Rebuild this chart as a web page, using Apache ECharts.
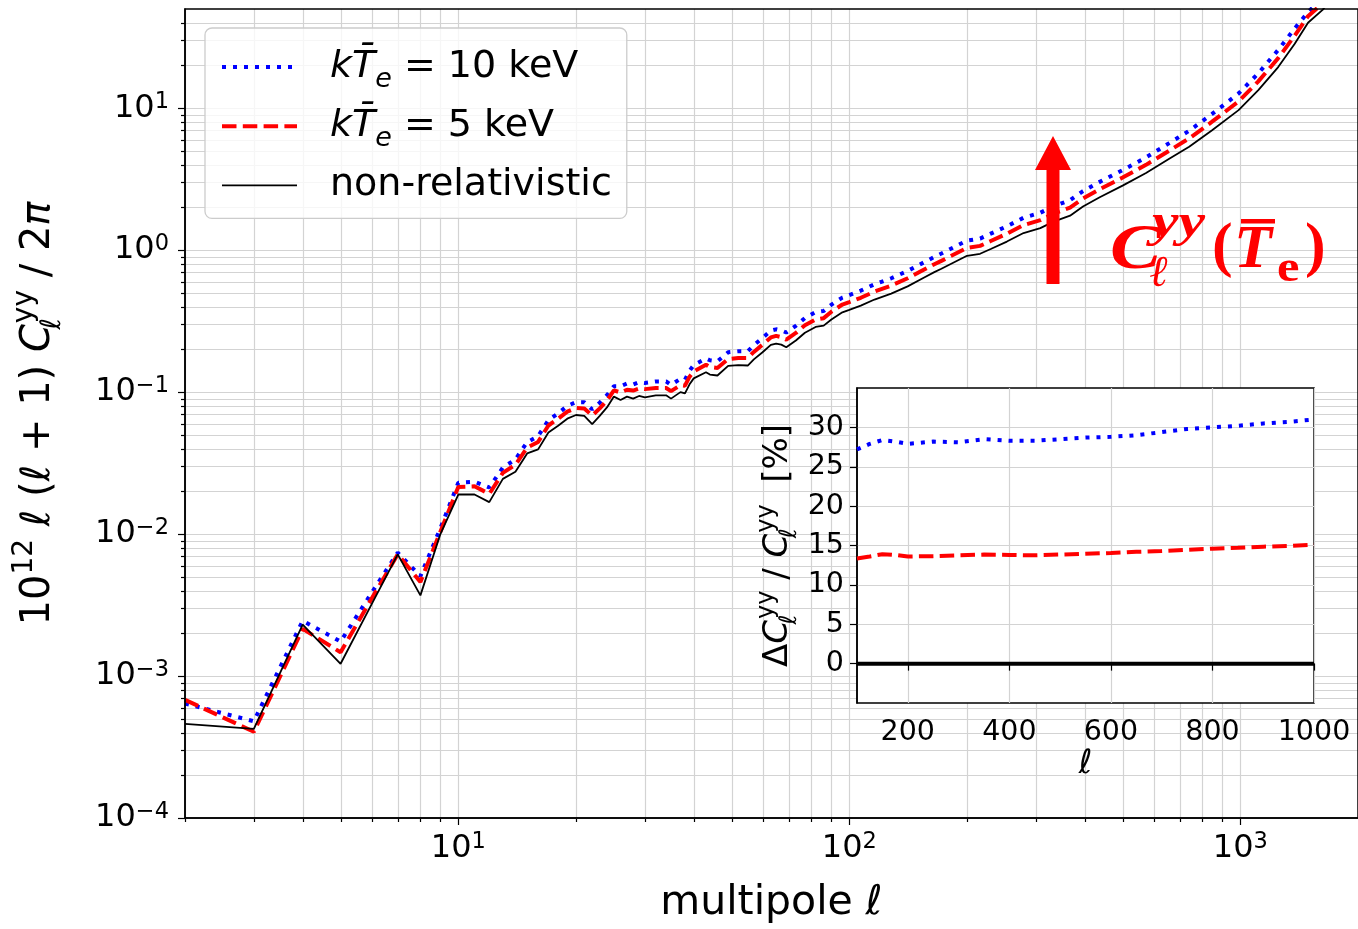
<!DOCTYPE html>
<html>
<head>
<meta charset="utf-8">
<title>tSZ power spectrum: relativistic corrections</title>
<script src="https://cdn.jsdelivr.net/npm/echarts@6.0.0/dist/echarts.min.js"></script>
<style>
  html, body { margin: 0; padding: 0; background: #fff; }
  #chart { width: 1358px; height: 929px; }
</style>
</head>
<body>
<div id="chart"></div>
<script>
// ---- multipoles and band powers, 10^12 l(l+1) C_l^yy / 2pi ----
const ell = [2, 3, 4, 5, 6, 7, 8, 9, 10, 11, 12, 13, 14, 15, 16, 17, 18, 19, 20, 21, 22, 23, 24, 25, 26, 27, 28, 29, 30, 32, 34, 35, 37, 38, 39, 40, 43, 44, 46, 49, 52, 55, 57, 60, 63, 65, 67, 69, 73, 77, 82, 86, 90, 96, 100, 107, 116, 128, 141, 155, 165, 172, 200, 216, 230, 253, 279, 308, 333, 367, 396, 437, 500, 574, 658, 740, 847, 990, 1112, 1250, 1378, 1490, 1626, 1700];

const kT10 = [6.4e-4, 4.8e-4, 2.45e-3, 1.75e-3, 3.85e-3, 7.4e-3, 5.05e-3, 1.1e-2, 0.0230, 0.0234, 0.0213, 0.0294, 0.0336, 0.0444, 0.049, 0.0634, 0.0708, 0.080, 0.0849, 0.085, 0.0756, 0.0843, 0.0952, 0.110, 0.110, 0.115, 0.113, 0.1175, 0.116, 0.119, 0.119, 0.1125, 0.124, 0.1225, 0.141, 0.155, 0.1725, 0.1676, 0.165, 0.191, 0.194, 0.194, 0.214, 0.241, 0.271, 0.277, 0.272, 0.263, 0.293, 0.333, 0.366, 0.373, 0.413, 0.4636, 0.483, 0.519, 0.575, 0.634, 0.714, 0.819, 0.896, 0.947, 1.168, 1.207, 1.307, 1.474, 1.692, 1.835, 2.042, 2.249, 2.607, 3.028, 3.662, 4.505, 5.676, 6.939, 9.114, 12.71, 17.62, 25.74, 36.5, 47.5, 60.0, 70.0];

const kT5 = [6.8e-4, 4.05e-4, 2.15e-3, 1.47e-3, 3.5e-3, 7.2e-3, 4.6e-3, 1.04e-2, 0.0215, 0.0217, 0.0192, 0.0270, 0.0308, 0.0407, 0.0446, 0.0582, 0.065, 0.0728, 0.0773, 0.0768, 0.0684, 0.0768, 0.0874, 0.103, 0.0994, 0.104, 0.1026, 0.106, 0.105, 0.107, 0.107, 0.1017, 0.112, 0.111, 0.128, 0.140, 0.156, 0.150, 0.148, 0.171, 0.174, 0.174, 0.192, 0.216, 0.243, 0.249, 0.244, 0.234, 0.261, 0.296, 0.325, 0.332, 0.3686, 0.414, 0.431, 0.462, 0.511, 0.563, 0.634, 0.728, 0.796, 0.841, 1.037, 1.072, 1.160, 1.308, 1.502, 1.627, 1.809, 1.993, 2.310, 2.686, 3.246, 3.99, 5.025, 6.126, 8.036, 11.16, 15.45, 22.54, 32.5, 44.5, 55.0, 65.0];

const nonRel = [4.6e-4, 4.25e-4, 2.3e-3, 1.22e-3, 3.2e-3, 7.2e-3, 3.7e-3, 1.0e-2, 0.019, 0.019, 0.0168, 0.0245, 0.0275, 0.037, 0.0395, 0.052, 0.058, 0.065, 0.069, 0.068, 0.0595, 0.068, 0.078, 0.093, 0.088, 0.093, 0.090, 0.094, 0.092, 0.095, 0.095, 0.090, 0.100, 0.098, 0.113, 0.125, 0.138, 0.133, 0.131, 0.153, 0.155, 0.154, 0.170, 0.191, 0.215, 0.220, 0.216, 0.207, 0.231, 0.262, 0.288, 0.294, 0.325, 0.365, 0.38, 0.407, 0.449, 0.494, 0.556, 0.64, 0.70, 0.74, 0.913, 0.943, 1.02, 1.15, 1.32, 1.43, 1.59, 1.75, 2.03, 2.36, 2.85, 3.5, 4.4, 5.35, 7.0, 9.7, 13.4, 19.5, 28.5, 40, 49.5, 58];

// ---- relative change of C_l^yy in percent (inset) ----
const insetEll = [100, 125, 150, 175, 200, 250, 300, 350, 400, 450, 500, 550, 600, 650, 700, 750, 800, 850, 900, 950, 1000];
const insetKT10 = [27.2, 27.9, 28.4, 28.2, 27.9, 28.2, 28.1, 28.5, 28.3, 28.3, 28.5, 28.7, 28.8, 29.0, 29.4, 29.8, 30.0, 30.2, 30.5, 30.7, 31.0];
const insetKT5 = [13.35, 13.6, 13.9, 13.8, 13.6, 13.65, 13.75, 13.85, 13.8, 13.75, 13.85, 13.95, 14.05, 14.2, 14.3, 14.45, 14.6, 14.7, 14.85, 14.95, 15.1];
const insetNonRel = [0, 0, 0, 0, 0, 0, 0, 0, 0, 0, 0, 0, 0, 0, 0, 0, 0, 0, 0, 0, 0];

// ---- tick values ----
const xMajorTicks = [10, 100, 1000];
const yMajorTicks = [1e-4, 1e-3, 1e-2, 1e-1, 1, 10];
const minorMultipliers = [2, 3, 4, 5, 6, 7, 8, 9];
const xDecades = [1, 10, 100];
const yDecades = [1e-4, 1e-3, 1e-2, 1e-1, 1, 10];
const insetXTicks = [200, 400, 600, 800, 1000];
const insetYTicks = [0, 5, 10, 15, 20, 25, 30];

const X_MIN = 2, X_MAX = 2000, Y_MIN = 1e-4, Y_MAX = 50;

const xMinorTicks = [];
xDecades.forEach(d => minorMultipliers.forEach(m => { const v = m * d; if (v >= X_MIN && v < X_MAX) xMinorTicks.push(v); }));
const yMinorTicks = [];
yDecades.forEach(d => minorMultipliers.forEach(m => { const v = m * d; if (v > Y_MIN && v < Y_MAX) yMinorTicks.push(v); }));

const NAME_10 = 'kTe = 10 keV';
const NAME_5 = 'kTe = 5 keV';
const NAME_NR = 'non-relativistic';

const GRID_GRAY = '#d3d3d3';
const FONT = 'DejaVu Sans';

function pairs(xs, ys) { return xs.map((x, i) => [x, ys[i]]); }

function powerLabel(v) {
  const e = Math.log10(v);
  const r = Math.round(e);
  if (Math.abs(e - r) > 1e-6) return '';
  return '{b|10}{sup|' + (r < 0 ? '\u2212' + (-r) : String(r)) + '}';
}

const powerRich = {
  b: { fontFamily: FONT, fontSize: 32, lineHeight: 35, color: '#000' },
  sup: { fontFamily: FONT, fontSize: 22.5, lineHeight: 22, verticalAlign: 'top', color: '#000' }
};

// Grid lines and ticks of the log-log panel, placed through the axes' own scales.
function tickSeries(axis, values, len, withGrid) {
  return {
    type: 'custom',
    xAxisIndex: 0, yAxisIndex: 0,
    coordinateSystem: 'cartesian2d',
    silent: true,
    z: 1,
    clip: false,
    encode: { x: 0, y: 1 },
    data: values.map(v => axis === 'x' ? [v, 1] : [10, v]),
    renderItem: function (params, api) {
      const cs = params.coordSys;
      const children = [];
      if (axis === 'x') {
        const px = Math.round(api.coord([api.value(0), 1])[0]) + 0.5;
        const bottom = cs.y + cs.height;
        if (withGrid) children.push({ type: 'line', shape: { x1: px, y1: cs.y, x2: px, y2: bottom }, style: { stroke: GRID_GRAY, lineWidth: 1.2 } });
        children.push({ type: 'line', shape: { x1: px, y1: bottom, x2: px, y2: bottom + len }, style: { stroke: '#000', lineWidth: 1.2 } });
      } else {
        const py = Math.round(api.coord([10, api.value(1)])[1]) + 0.5;
        if (withGrid) children.push({ type: 'line', shape: { x1: cs.x, y1: py, x2: cs.x + cs.width, y2: py }, style: { stroke: GRID_GRAY, lineWidth: 1.2 } });
        children.push({ type: 'line', shape: { x1: cs.x - len, y1: py, x2: cs.x, y2: py }, style: { stroke: '#000', lineWidth: 1.2 } });
      }
      return { type: 'group', children: children };
    }
  };
}

const dotted = { color: '#0000ff', width: 4, type: [4, 7], cap: 'butt' };
const dashed = { color: '#ff0000', width: 4, type: [14.5, 6.3], cap: 'butt' };
const solidMain = { color: '#000', width: 1.8 };
const hiddenSymbol = { color: 'rgba(0,0,0,0)', borderWidth: 0, opacity: 0 };

const legendRich = {
  n: { fontFamily: FONT, fontSize: 38, lineHeight: 52, color: '#000' },
  it: { fontFamily: FONT, fontSize: 38, fontStyle: 'italic', lineHeight: 52, color: '#000' },
  sub: { fontFamily: FONT, fontSize: 27, fontStyle: 'italic', lineHeight: 27, verticalAlign: 'bottom', color: '#000' },
  m: { fontFamily: FONT, fontSize: 38, lineHeight: 42, color: '#000' }
};

const nameRichMain = {
  n: { fontFamily: FONT, fontSize: 40, lineHeight: 56, color: '#000' },
  it: { fontFamily: FONT, fontSize: 40, fontStyle: 'italic', lineHeight: 56, color: '#000' },
  sup: { fontFamily: FONT, fontSize: 28, lineHeight: 28, verticalAlign: 'top', color: '#000' },
  sub0: { fontFamily: FONT, fontSize: 28, fontStyle: 'italic', lineHeight: 28, verticalAlign: 'bottom', width: 1, color: '#000' }
};

const nameRichInset = {
  n: { fontFamily: FONT, fontSize: 34, lineHeight: 47, color: '#000' },
  it: { fontFamily: FONT, fontSize: 34, fontStyle: 'italic', lineHeight: 47, color: '#000' },
  sup: { fontFamily: FONT, fontSize: 24, lineHeight: 24, verticalAlign: 'top', color: '#000' },
  sub0: { fontFamily: FONT, fontSize: 24, fontStyle: 'italic', lineHeight: 24, verticalAlign: 'bottom', width: 1, color: '#000' }
};

const RED = '#ff0000';
const annoFont = 'Liberation Serif';

const option = {
  animation: false,
  backgroundColor: '#ffffff',
  textStyle: { fontFamily: FONT },
  grid: [
    { left: 185, top: 9, right: -9, bottom: 109, show: true, backgroundColor: 'transparent', borderColor: '#000', borderWidth: 1.5, z: 3 },
    { left: 857, top: 388, width: 457, height: 315, show: true, backgroundColor: '#ffffff', borderColor: '#000', borderWidth: 1.5, z: 10 }
  ],
  legend: {
    data: [
      { name: NAME_10, lineStyle: dotted, itemStyle: hiddenSymbol },
      { name: NAME_5, lineStyle: dashed, itemStyle: hiddenSymbol },
      { name: NAME_NR, lineStyle: solidMain, itemStyle: hiddenSymbol }
    ],
    orient: 'vertical',
    left: 205, top: 28,
    padding: [20, 15, 14, 15],
    itemGap: 14.2,
    itemWidth: 75, itemHeight: 14,
    selectedMode: false,
    backgroundColor: 'rgba(255,255,255,0.8)',
    borderColor: '#cccccc', borderWidth: 1.3, borderRadius: 7,
    itemStyle: hiddenSymbol,
    textStyle: { padding: [0, 0, 0, 28], rich: legendRich },
    formatter: function (name) {
      if (name === NAME_10) return '{it|kT\u0304}{sub|e}{n| = 10 keV}';
      if (name === NAME_5) return '{it|kT\u0304}{sub|e}{n| = 5 keV}';
      return '{m|non-relativistic}';
    }
  },
  xAxis: [
    {
      type: 'log', logBase: 10, gridIndex: 0, min: X_MIN, max: X_MAX, z: 4,
      axisLine: { show: true, lineStyle: { color: '#000', width: 1.5 } },
      axisTick: { show: false }, splitLine: { show: false },
      axisLabel: { formatter: powerLabel, showMinLabel: false, showMaxLabel: false, margin: 13, rich: powerRich },
      name: 'multipole {it|\u2113}', nameLocation: 'middle', nameGap: 65,
      nameTextStyle: { fontFamily: FONT, fontSize: 41, color: '#000', rich: { it: { fontFamily: FONT, fontSize: 41, fontStyle: 'italic', color: '#000' } } }
    },
    {
      type: 'value', gridIndex: 1, min: 100, max: 1000, z: 11,
      axisLine: { show: true, lineStyle: { color: '#000', width: 1.5 } },
      axisTick: { show: true, customValues: insetXTicks, length: 7, lineStyle: { color: '#000', width: 1.2 } },
      axisLabel: { customValues: insetXTicks, formatter: v => String(v), fontFamily: FONT, fontSize: 28.5, color: '#000', margin: 15 },
      splitLine: { show: true, lineStyle: { color: GRID_GRAY, width: 1.2 } },
      name: '\u2113', nameLocation: 'middle', nameGap: 38,
      nameTextStyle: { fontFamily: FONT, fontSize: 33, fontStyle: 'italic', color: '#000' }
    }
  ],
  yAxis: [
    {
      type: 'log', logBase: 10, gridIndex: 0, min: Y_MIN, max: Y_MAX, z: 4,
      axisLine: { show: true, lineStyle: { color: '#000', width: 1.5 } },
      axisTick: { show: false }, splitLine: { show: false },
      axisLabel: { formatter: powerLabel, showMaxLabel: false, margin: 16, rich: powerRich },
      name: '{n|10}{sup|12}{it| \u2113}{n| (}{it|\u2113}{n| + 1) }{it|C}{sub0|\u2113}{sup|yy}{n| / 2}{it|\u03c0}',
      nameLocation: 'middle', nameRotate: 90, nameGap: 118,
      nameTextStyle: { rich: nameRichMain }
    },
    {
      type: 'value', gridIndex: 1, min: -5, max: 35, z: 11,
      axisLine: { show: true, lineStyle: { color: '#000', width: 1.5 } },
      axisTick: { show: true, customValues: insetYTicks, length: 7, lineStyle: { color: '#000', width: 1.2 } },
      axisLabel: { customValues: insetYTicks, fontFamily: FONT, fontSize: 28.5, color: '#000', margin: 13 },
      splitLine: { show: true, lineStyle: { color: GRID_GRAY, width: 1.2 } },
      name: '{n|\u0394}{it|C}{sub0|\u2113}{sup|yy}{n| / }{it|C}{sub0|\u2113}{sup|yy}{n|  [%]}',
      nameLocation: 'middle', nameRotate: 90, nameGap: 55,
      nameTextStyle: { rich: nameRichInset }
    }
  ],
  graphic: [
    {
      type: 'polygon', z: 20, silent: true,
      shape: { points: [[1046.5, 284], [1046.5, 170], [1035, 170], [1053, 136], [1071, 170], [1059.5, 170], [1059.5, 284]] },
      style: { fill: RED }
    },
    { type: 'text', z: 20, silent: true, x: 1110, y: 251, scaleX: 1.2, style: { text: 'C', font: 'italic bold 64px "' + annoFont + '"', fill: RED, verticalAlign: 'middle' } },
    { type: 'text', z: 20, silent: true, x: 1152, y: 224, scaleX: 1.3, style: { text: 'yy', font: 'italic bold 46px "' + annoFont + '"', fill: RED, verticalAlign: 'middle' } },
    { type: 'text', z: 20, silent: true, x: 1150, y: 275, style: { text: '\u2113', font: 'italic bold 44px "' + annoFont + '"', fill: RED, verticalAlign: 'middle' } },
    { type: 'text', z: 20, silent: true, x: 1212, y: 249, style: { text: '(', font: 'bold 62px "' + annoFont + '"', fill: RED, verticalAlign: 'middle' } },
    { type: 'text', z: 20, silent: true, x: 1234, y: 251, style: { text: 'T', font: 'italic bold 62px "' + annoFont + '"', fill: RED, verticalAlign: 'middle' } },
    { type: 'rect', z: 20, silent: true, shape: { x: 1241, y: 219, width: 34, height: 4.5 }, style: { fill: RED } },
    { type: 'text', z: 20, silent: true, x: 1277, y: 270, scaleX: 1.15, style: { text: 'e', font: 'bold 44px "' + annoFont + '"', fill: RED, verticalAlign: 'middle' } },
    { type: 'text', z: 20, silent: true, x: 1305, y: 249, style: { text: ')', font: 'bold 62px "' + annoFont + '"', fill: RED, verticalAlign: 'middle' } }
  ],
  series: [
    tickSeries('x', xMajorTicks, 7, true),
    tickSeries('x', xMinorTicks, 4, true),
    tickSeries('y', yMajorTicks, 7, true),
    tickSeries('y', yMinorTicks, 4, true),
    {
      name: NAME_10, type: 'line', xAxisIndex: 0, yAxisIndex: 0, data: pairs(ell, kT10),
      symbol: 'none', showSymbol: false, lineStyle: dotted, itemStyle: { color: '#0000ff' }, z: 2, clip: true
    },
    {
      name: NAME_5, type: 'line', xAxisIndex: 0, yAxisIndex: 0, data: pairs(ell, kT5),
      symbol: 'none', showSymbol: false, lineStyle: dashed, itemStyle: { color: '#ff0000' }, z: 2, clip: true
    },
    {
      name: NAME_NR, type: 'line', xAxisIndex: 0, yAxisIndex: 0, data: pairs(ell, nonRel),
      symbol: 'none', showSymbol: false, lineStyle: solidMain, itemStyle: { color: '#000' }, z: 2, clip: true
    },
    {
      name: NAME_10, type: 'line', xAxisIndex: 1, yAxisIndex: 1, data: pairs(insetEll, insetKT10),
      symbol: 'none', showSymbol: false, lineStyle: dotted, itemStyle: { color: '#0000ff' }, z: 12, clip: true
    },
    {
      name: NAME_5, type: 'line', xAxisIndex: 1, yAxisIndex: 1, data: pairs(insetEll, insetKT5),
      symbol: 'none', showSymbol: false, lineStyle: dashed, itemStyle: { color: '#ff0000' }, z: 12, clip: true
    },
    {
      name: NAME_NR, type: 'line', xAxisIndex: 1, yAxisIndex: 1, data: pairs(insetEll, insetNonRel),
      symbol: 'none', showSymbol: false, lineStyle: { color: '#000', width: 4 }, itemStyle: { color: '#000' }, z: 12, clip: true
    }
  ]
};

const chart = echarts.init(document.getElementById('chart'), null, { renderer: 'canvas', width: 1358, height: 929 });
chart.setOption(option);
</script>
</body>
</html>
